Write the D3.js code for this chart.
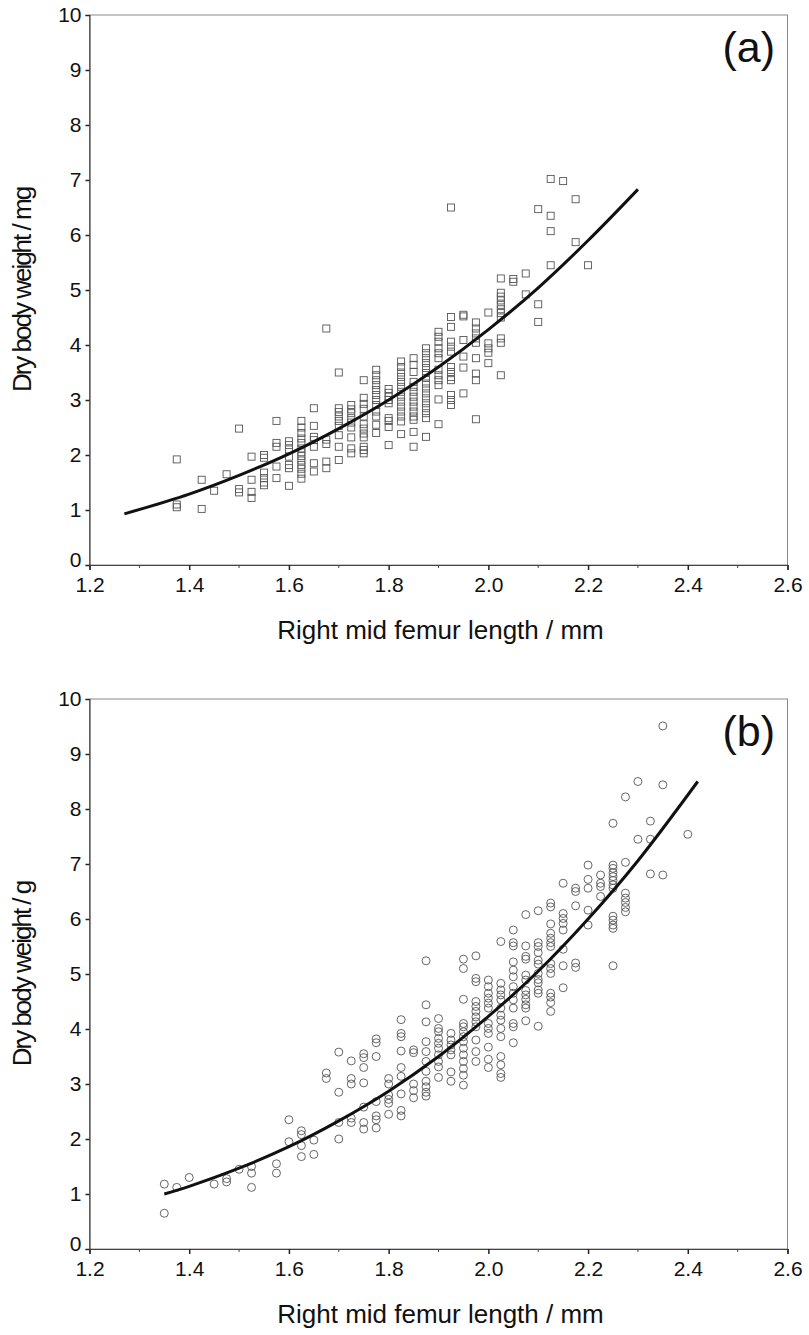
<!DOCTYPE html>
<html>
<head>
<meta charset="utf-8">
<script src="https://cdn.jsdelivr.net/npm/d3@7"></script>
<style>
  body { margin: 0; background: #fff; }
  text { font-family: "Liberation Sans", Arial, sans-serif; fill: #111; }
</style>
</head>
<body>
<div id="container"></div>
<script>
// panel (a): femur length columns and the dry weights (mg) read in each column
let lengthsA = [1.375, 1.425, 1.45, 1.475, 1.5, 1.525, 1.55, 1.575, 1.6, 1.625, 1.65, 1.675, 1.7, 1.725, 1.75,
  1.775, 1.8, 1.825, 1.85, 1.875, 1.9, 1.925, 1.95, 1.975, 2.0, 2.025, 2.05, 2.075, 2.1, 2.125, 2.15, 2.175, 2.2];
let weightsA = [
  [1.92, 1.1, 1.05],
  [1.55, 1.02],
  [1.35],
  [1.65],
  [2.48, 1.38, 1.32],
  [1.97, 1.55, 1.33, 1.22],
  [2.0, 1.95, 1.68, 1.58, 1.5, 1.45],
  [2.62, 2.22, 2.15, 1.79, 1.58],
  [2.25, 2.18, 2.1, 1.97, 1.82, 1.76, 1.44],
  [2.62, 2.5, 2.4, 2.3, 2.22, 2.12, 2.05, 1.98, 1.9, 1.82, 1.75, 1.66, 1.57],
  [2.85, 2.53, 2.33, 2.27, 2.15, 1.85, 1.7],
  [4.3, 2.28, 2.2, 1.88, 1.76],
  [3.5, 2.85, 2.78, 2.7, 2.62, 2.53, 2.36, 2.15, 1.91],
  [2.91, 2.83, 2.76, 2.67, 2.59, 2.5, 2.32, 2.12, 2.03],
  [3.36, 3.04, 2.93, 2.84, 2.7, 2.56, 2.48, 2.39, 2.32, 2.15, 2.09, 2.03],
  [3.55, 3.45, 3.36, 3.27, 3.18, 3.09, 3.0, 2.91, 2.79, 2.7, 2.55, 2.4],
  [3.2, 3.13, 3.06, 3.0, 2.94, 2.67, 2.62, 2.51, 2.18],
  [3.7, 3.6, 3.5, 3.42, 3.33, 3.24, 3.15, 3.06, 2.97, 2.88, 2.79, 2.7, 2.61, 2.38],
  [3.76, 3.64, 3.51, 3.33, 3.24, 3.15, 3.06, 2.97, 2.88, 2.79, 2.7, 2.64, 2.42, 2.15],
  [3.94, 3.85, 3.76, 3.67, 3.58, 3.49, 3.4, 3.3, 3.21, 3.12, 3.03, 2.94, 2.85, 2.76, 2.67, 2.33],
  [4.24, 4.15, 4.06, 3.94, 3.85, 3.76, 3.55, 3.45, 3.36, 3.27, 3.01, 2.56],
  [6.5, 4.51, 4.33, 4.06, 3.97, 3.88, 3.6, 3.51, 3.42, 3.36, 3.09, 3.0, 2.91],
  [4.55, 4.52, 4.09, 3.79, 3.59, 3.12],
  [4.41, 4.3, 4.21, 4.12, 4.04, 3.76, 3.48, 3.36, 2.65],
  [4.59, 4.03, 3.94, 3.86, 3.67],
  [5.21, 4.95, 4.88, 4.81, 4.73, 4.65, 4.58, 4.5, 4.12, 4.04, 3.45],
  [5.2, 5.15],
  [5.3, 4.92],
  [6.47, 4.74, 4.42],
  [7.02, 6.35, 6.07, 5.45],
  [6.98],
  [6.65, 5.87],
  [5.45]
];
let fitLengthA = [1.27, 1.4, 1.5, 1.6, 1.7, 1.8, 1.9, 2.0, 2.1, 2.2, 2.3];
let fitWeightA = [0.93, 1.29, 1.63, 2.02, 2.48, 3.0, 3.6, 4.28, 5.04, 5.9, 6.83];

// panel (b): femur length columns and dry weights (g)
let lengthsB = [1.35, 1.375, 1.4, 1.45, 1.475, 1.5, 1.525, 1.575, 1.6, 1.625, 1.65, 1.675, 1.7, 1.725, 1.75,
  1.775, 1.8, 1.825, 1.85, 1.875, 1.9, 1.925, 1.95, 1.975, 2.0, 2.025, 2.05, 2.075, 2.1, 2.125, 2.15, 2.175,
  2.2, 2.225, 2.25, 2.275, 2.3, 2.325, 2.35, 2.4];
let weightsB = [
  [1.18, 0.65],
  [1.12],
  [1.3],
  [1.18],
  [1.22, 1.28],
  [1.45],
  [1.5, 1.38, 1.12],
  [1.55, 1.38],
  [2.35, 1.95],
  [2.15, 2.08, 1.88, 1.68],
  [1.98, 1.72],
  [3.2, 3.1],
  [3.58, 2.85, 2.3, 2.0],
  [3.42, 3.1, 3.0, 2.38, 2.3],
  [3.55, 3.48, 3.3, 3.02, 2.58, 2.3, 2.18],
  [3.82, 3.75, 3.5, 2.68, 2.42, 2.35, 2.2],
  [3.1, 3.0, 2.8, 2.72, 2.65, 2.45],
  [4.17, 3.92, 3.86, 3.6, 3.3, 3.14, 2.82, 2.52, 2.42],
  [3.62, 3.57, 3.0, 2.88, 2.75],
  [5.24, 4.44, 4.13, 3.77, 3.59, 3.41, 3.23, 3.05, 2.95, 2.85, 2.78],
  [4.19, 4.01, 3.95, 3.83, 3.74, 3.65, 3.53, 3.41, 3.31, 3.12],
  [3.92, 3.8, 3.71, 3.62, 3.53, 3.22, 3.05],
  [5.27, 5.1, 4.54, 4.1, 4.04, 3.95, 3.86, 3.77, 3.65, 3.53, 3.41, 3.28, 3.16, 2.98],
  [5.33, 4.92, 4.86, 4.5, 4.41, 4.32, 4.22, 4.13, 4.04, 3.8, 3.59, 3.41],
  [4.89, 4.77, 4.65, 4.56, 4.47, 4.38, 4.1, 4.01, 3.92, 3.67, 3.45, 3.3],
  [5.59, 4.83, 4.71, 4.62, 4.53, 4.38, 4.25, 4.16, 4.01, 3.86, 3.5, 3.35, 3.19, 3.12],
  [5.8, 5.57, 5.51, 5.22, 5.07, 4.95, 4.77, 4.65, 4.53, 4.38, 4.1, 4.04, 3.75],
  [6.08, 5.51, 5.32, 5.27, 4.98, 4.89, 4.7, 4.62, 4.54, 4.44, 4.38, 4.15],
  [6.15, 5.57, 5.5, 5.39, 5.25, 5.18, 5.01, 4.9, 4.84, 4.71, 4.65, 4.05],
  [6.29, 6.22, 5.91, 5.74, 5.65, 5.57, 5.5, 5.19, 5.1, 5.01, 4.65, 4.58, 4.48, 4.32],
  [6.65, 6.1, 6.01, 5.92, 5.8, 5.45, 5.15, 4.75],
  [6.56, 6.5, 6.24, 5.2, 5.12],
  [6.98, 6.72, 6.56, 6.16, 5.89],
  [6.8, 6.65, 6.59, 6.41],
  [7.74, 6.98, 6.92, 6.84, 6.77, 6.7, 6.62, 6.56, 6.05, 5.98, 5.89, 5.83, 5.15],
  [8.22, 7.03, 6.47, 6.38, 6.3, 6.21, 6.13],
  [8.5, 7.45],
  [7.78, 7.45, 6.82],
  [9.51, 8.44, 6.8],
  [7.54]
];
let fitLengthB = [1.35, 1.4, 1.5, 1.6, 1.7, 1.8, 1.9, 2.0, 2.1, 2.2, 2.3, 2.42];
let fitWeightB = [1.0, 1.14, 1.47, 1.86, 2.33, 2.87, 3.5, 4.23, 5.05, 6.0, 7.06, 8.5];

let xTicks = [1.2, 1.4, 1.6, 1.8, 2.0, 2.2, 2.4, 2.6];
let yTicks = [0, 1, 2, 3, 4, 5, 6, 7, 8, 9, 10];

let width = 809;
let height = 1335;
let left = 89.5;
let right = 787.5;
let plotH = 550;

let svg = d3.select("#container")
  .append("svg")
  .attr("width", width)
  .attr("height", height);

function drawPanel(top, lengths, weights, fitL, fitW, yLabel, tag, marker) {
  let x = d3.scaleLinear().domain([1.2, 2.6]).range([left, right]);
  let y = d3.scaleLinear().domain([0, 10]).range([top + plotH, top]);
  let g = svg.append("g");

  // frame
  g.append("rect")
    .attr("x", left).attr("y", top)
    .attr("width", right - left).attr("height", plotH)
    .attr("fill", "none").attr("stroke", "#8a8a8a").attr("stroke-width", 1);

  // minor x ticks
  let minor = d3.range(1.3, 2.6, 0.2);
  g.selectAll(".minor").data(minor).enter().append("line")
    .attr("x1", d => x(d)).attr("x2", d => x(d))
    .attr("y1", top + plotH).attr("y2", top + plotH + 3)
    .attr("stroke", "#444");

  let xAxis = g.append("g")
    .attr("transform", `translate(0,${top + plotH})`)
    .call(d3.axisBottom(x).tickValues(xTicks).tickFormat(d3.format(".1f")).tickSize(5).tickPadding(7));
  let yAxis = g.append("g")
    .attr("transform", `translate(${left},0)`)
    .call(d3.axisLeft(y).tickValues(yTicks).tickFormat(d3.format("d")).tickSize(4).tickPadding(4));
  [xAxis, yAxis].forEach(a => {
    a.select(".domain").attr("stroke", "#444").attr("stroke-width", 1.2);
    a.selectAll(".tick line").attr("stroke", "#222").attr("stroke-width", 1.5);
    a.selectAll("text").style("font-size", "21px").style("font-family", "Liberation Sans, Arial, sans-serif").attr("fill", "#111");
  });
  // the 0 label sits a little above the corner
  yAxis.selectAll(".tick text").filter(d => d === 0).attr("dy", "0.05em");

  // points
  let pts = [];
  lengths.forEach((l, i) => weights[i].forEach(w => pts.push([l, w])));
  if (marker === "square") {
    g.selectAll(".pt").data(pts).enter().append("rect")
      .attr("x", d => x(d[0]) - 3.5).attr("y", d => y(d[1]) - 3.5)
      .attr("width", 7).attr("height", 7)
      .attr("fill", "none").attr("stroke", "#555").attr("stroke-width", 0.9);
  } else {
    g.selectAll(".pt").data(pts).enter().append("circle")
      .attr("cx", d => x(d[0])).attr("cy", d => y(d[1])).attr("r", 4)
      .attr("fill", "none").attr("stroke", "#555").attr("stroke-width", 0.9);
  }

  // fitted curve
  let line = d3.line().x(d => x(d[0])).y(d => y(d[1])).curve(d3.curveCatmullRom);
  g.append("path")
    .datum(fitL.map((l, i) => [l, fitW[i]]))
    .attr("d", line)
    .attr("fill", "none").attr("stroke", "#111").attr("stroke-width", 3);

  g.append("text")
    .attr("x", (left + right) / 2 + 2).attr("y", top + plotH + 74)
    .attr("text-anchor", "middle").style("font-size", "26px")
    .text("Right mid femur length / mm");

  g.append("text")
    .attr("transform", `translate(31,${top + plotH / 2}) rotate(-90)`)
    .attr("text-anchor", "middle").style("font-size", "26px").style("letter-spacing", "-2px")
    .text(yLabel);

  g.append("text")
    .attr("x", 775).attr("y", top + 47)
    .attr("text-anchor", "end").style("font-size", "43px")
    .text(tag);
}

drawPanel(15, lengthsA, weightsA, fitLengthA, fitWeightA, "Dry body weight / mg", "(a)", "square");
drawPanel(699, lengthsB, weightsB, fitLengthB, fitWeightB, "Dry body weight / g", "(b)", "circle");
</script>
</body>
</html>
